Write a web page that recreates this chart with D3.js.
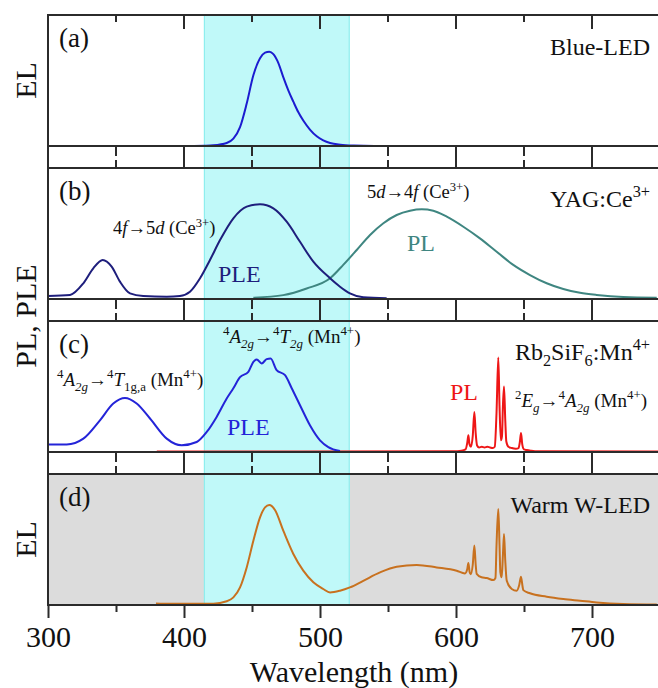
<!DOCTYPE html>
<html>
<head>
<meta charset="utf-8">
<script src="https://cdn.jsdelivr.net/npm/d3@7"></script>
<style>
  body { margin: 0; background: #fff; }
  text { font-family: "Liberation Serif", "Times New Roman", serif; }
</style>
</head>
<body>
<svg id="chart" width="658" height="688"></svg>
<script>
// ---- data -------------------------------------------------------------
const wavelengthDomain = [300, 750];
const majorTicks = [300, 400, 500, 600, 700];
const minorTicks = [350, 450, 550, 650, 750];
const excitationBand = [415, 521.5];

// (a) blue LED chip electroluminescence [wavelength nm, intensity a.u.]
const blueLedEL = [
  [380,0],[400,0],[415,0.003],[421.6,0.007],[431.4,0.032],[436.3,0.078],[441.2,0.2],
  [446.1,0.45],[451,0.75],[455.9,0.93],[459.6,0.99],[462.7,1.0],[465.7,0.975],
  [469.4,0.88],[473,0.73],[476.7,0.59],[480.4,0.47],[484,0.36],[487.7,0.27],
  [492.6,0.174],[497.6,0.103],[502.4,0.06],[507.4,0.032],[515,0.014],[525,0.005],
  [540,0.001],[600,0]
];

// (b) YAG:Ce3+ excitation and emission
const yagPLE = [
  [300,0.032],[316.2,0.043],[326,0.166],[333.3,0.324],[340.2,0.412],[346.8,0.342],
  [352.9,0.183],[360.3,0.059],[370,0.032],[387.3,0.025],[397,0.032],[404.4,0.077],
  [411.8,0.219],[419.1,0.412],[426.5,0.622],[436.3,0.852],[446.1,0.975],[455.9,1.0],
  [465.7,0.957],[475.5,0.816],[485.3,0.604],[495.1,0.394],[507.4,0.219],[514.7,0.13],
  [522,0.059],[531.8,0.018],[549,0.007]
];
const yagPL = [
  [451,0.014],[473,0.041],[490.2,0.111],[507.4,0.219],[517.1,0.36],[527,0.517],
  [536.8,0.676],[546.6,0.8],[556.4,0.887],[566.2,0.932],[574.8,0.947],[583.3,0.932],
  [593.2,0.869],[605.4,0.763],[617.6,0.64],[629.9,0.499],[642.1,0.36],[654.4,0.253],
  [666.7,0.166],[678.9,0.105],[691.2,0.066],[703.4,0.043],[723,0.021],[747.6,0.014]
];

// (c) Rb2SiF6:Mn4+ excitation and emission
const rsfPLE = [
  [300,0.079],[313.7,0.081],[326,0.143],[338.2,0.339],[348,0.518],[356.6,0.578],
  [365.2,0.518],[375,0.358],[387.3,0.143],[398.3,0.072],[409.3,0.107],[416.7,0.214],
  [424,0.375],[431.4,0.572],[436.3,0.682],[441.2,0.80],[447.3,0.857],[451,0.963],
  [453.5,0.989],[457.1,0.946],[460.8,0.993],[463.7,1.0],[468.1,0.875],[474.3,0.821],
  [479.2,0.682],[485.3,0.5],[492.6,0.286],[500,0.125],[506.1,0.053],[514.7,0.01]
];
const rsfPL = [
  [380,0.005],[598,0.007],[604,0.014],[607,0.028],[608.3,0.1],[609.1,0.178],
  [609.9,0.084],[611,0.056],[612.3,0.168],[613.5,0.428],[614.5,0.196],[615.5,0.07],
  [617,0.049],[619,0.056],[621,0.049],[623,0.056],[625,0.049],[627,0.042],
  [628.5,0.056],[629.8,0.42],[631.1,1.01],[632,0.49],[633,0.126],[633.8,0.168],
  [634.5,0.49],[635.3,0.7],[636.2,0.35],[637,0.112],[638.5,0.056],[641,0.042],
  [644,0.035],[646,0.042],[647,0.112],[647.8,0.203],[648.7,0.084],[650,0.028],
  [652,0.021],[655,0.014],[660,0.007],[750,0.005]
];

// (d) warm white LED electroluminescence
const warmLedEL = [
  [379.4,0.016],[390,0.012],[421.6,0.013],[431.4,0.037],[436.3,0.076],[441.2,0.176],
  [446.1,0.376],[451,0.642],[455.9,0.877],[459.6,0.976],[462.7,1.0],[466.9,0.95],
  [473,0.743],[480.4,0.51],[487.7,0.343],[495.1,0.227],[502.4,0.16],[507.4,0.126],
  [514.7,0.143],[522,0.176],[531.8,0.242],[544.1,0.326],[556.4,0.383],[571.1,0.4],
  [585.8,0.376],[600.5,0.343],[606.6,0.316],[608.3,0.36],[609.1,0.419],[610,0.33],
  [610.8,0.308],[612.3,0.4],[613.5,0.594],[614.5,0.4],[615.2,0.311],[618.8,0.277],
  [622.5,0.27],[627.5,0.249],[629,0.27],[629.8,0.6],[631.1,0.961],[632,0.6],
  [632.6,0.33],[633.6,0.277],[634.5,0.5],[635.3,0.71],[636.2,0.45],[637.3,0.244],
  [641,0.16],[644.6,0.143],[646.5,0.2],[647.8,0.283],[649,0.18],[649.5,0.149],
  [654.4,0.117],[666.7,0.083],[678.9,0.06],[691.2,0.043],[703.4,0.026],[723,0.01],
  [747.6,0.004]
];

// ---- layout -----------------------------------------------------------
const svg = d3.select("#chart");
const FONT = '"Liberation Serif", "Times New Roman", serif';
const left = 48, right = 660;
const panelTops = [15, 168, 321, 474];
const panelH = 131;
const panelYMax = [1.39, 1.383, 1.40, 1.31];
const frameColor = "#2b2b2b";

const x = d3.scaleLinear().domain(wavelengthDomain).range([left, right]);
const yScales = panelTops.map((t, i) =>
  d3.scaleLinear().domain([0, panelYMax[i]]).range([t + panelH, t]));

svg.append("rect").attr("width", 658).attr("height", 688).attr("fill", "#fff");

// grey background of the white-LED panel
svg.append("rect")
  .attr("x", left).attr("y", panelTops[3])
  .attr("width", right - left).attr("height", panelH)
  .attr("fill", "#dcdcdc");

// excitation window of the blue chip
const bandTop = panelTops[0], bandBottom = panelTops[3] + panelH;
svg.append("rect")
  .attr("x", x(excitationBand[0])).attr("y", bandTop)
  .attr("width", x(excitationBand[1]) - x(excitationBand[0]))
  .attr("height", bandBottom - bandTop)
  .attr("fill", "#c0f9f9");
svg.selectAll(".bandEdge").data(excitationBand).join("line")
  .attr("x1", d => x(d)).attr("x2", d => x(d))
  .attr("y1", bandTop).attr("y2", bandBottom)
  .attr("stroke", "#8eeeee").attr("stroke-width", 1.2);

// ---- spectra ----------------------------------------------------------
const series = [
  { data: blueLedEL, panel: 0, color: "#1c1cd0" },
  { data: yagPL,     panel: 1, color: "#3f8681" },
  { data: yagPLE,    panel: 1, color: "#1e1e7c" },
  { data: rsfPL,     panel: 2, color: "#ee1616" },
  { data: rsfPLE,    panel: 2, color: "#2424d8" },
  { data: warmLedEL, panel: 3, color: "#c8711f" }
];
series.forEach(s => {
  const y = yScales[s.panel];
  const line = d3.line().x(d => x(d[0])).y(d => y(d[1])).curve(d3.curveMonotoneX);
  svg.append("path").datum(s.data)
    .attr("d", line).attr("fill", "none")
    .attr("stroke", s.color).attr("stroke-width", 2)
    .attr("stroke-linejoin", "round");
});

// ---- frames and ticks -------------------------------------------------
const frame = svg.append("g").attr("stroke", frameColor).attr("stroke-width", 2);
panelTops.forEach(t => {
  [t, t + panelH].forEach(yy =>
    frame.append("line").attr("x1", left - 1).attr("x2", right + 1)
      .attr("y1", yy).attr("y2", yy));
});
[left, right].forEach(xx =>
  frame.append("line").attr("x1", xx).attr("x2", xx)
    .attr("y1", bandTop - 1).attr("y2", bandBottom + 1));

// inward ticks along the top of panel (a)
frame.selectAll(".topMajor").data(majorTicks.filter(d => d > 300)).join("line")
  .attr("x1", d => x(d)).attr("x2", d => x(d))
  .attr("y1", panelTops[0]).attr("y2", panelTops[0] + 14);
frame.selectAll(".topMinor").data(minorTicks.filter(d => d < 750)).join("line")
  .attr("x1", d => x(d)).attr("x2", d => x(d))
  .attr("y1", panelTops[0]).attr("y2", panelTops[0] + 7);

// ticks in the gaps between stacked panels
for (let i = 0; i < 3; i++) {
  const b = panelTops[i] + panelH, t = panelTops[i + 1];
  frame.selectAll(".gapMajor" + i).data(majorTicks.filter(d => d > 300)).join("line")
    .attr("x1", d => x(d)).attr("x2", d => x(d)).attr("y1", b).attr("y2", t);
  frame.selectAll(".gapMinorA" + i).data(minorTicks.filter(d => d < 750)).join("line")
    .attr("x1", d => x(d)).attr("x2", d => x(d)).attr("y1", b).attr("y2", b + 10);
  frame.selectAll(".gapMinorB" + i).data(minorTicks.filter(d => d < 750)).join("line")
    .attr("x1", d => x(d)).attr("x2", d => x(d)).attr("y1", t - 8).attr("y2", t);
}

// bottom wavelength axis
const axisY = panelTops[3] + panelH;
const axisMajor = svg.append("g").attr("transform", `translate(0,${axisY})`)
  .call(d3.axisBottom(x).tickValues(majorTicks).tickSize(13).tickPadding(8)
        .tickFormat(d3.format("d")));
axisMajor.select(".domain").remove();
axisMajor.selectAll("line").attr("stroke", frameColor).attr("stroke-width", 2);
axisMajor.selectAll("text").attr("font-family", FONT).attr("font-size", 30).attr("fill", "#111");
const axisMinor = svg.append("g").attr("transform", `translate(0,${axisY})`)
  .call(d3.axisBottom(x).tickValues(minorTicks.filter(d => d < 750)).tickSize(7).tickFormat(""));
axisMinor.select(".domain").remove();
axisMinor.selectAll("line").attr("stroke", frameColor).attr("stroke-width", 2);

svg.append("text").attr("x", (left + right) / 2).attr("y", 682)
  .attr("text-anchor", "middle").attr("font-size", 30).attr("fill", "#111")
  .text("Wavelength (nm)");

// ---- y titles ---------------------------------------------------------
const yTitles = [
  { text: "EL", cy: panelTops[0] + panelH / 2 },
  { text: "PL, PLE", cy: 316 },
  { text: "EL", cy: panelTops[3] + panelH / 2 }
];
yTitles.forEach(d =>
  svg.append("text").attr("transform", `translate(36,${d.cy}) rotate(-90)`)
    .attr("text-anchor", "middle").attr("font-size", 30).attr("fill", "#111")
    .text(d.text));

// ---- labels -----------------------------------------------------------
function richText(px, py, segs, opt) {
  const fs = opt.size;
  const t = svg.append("text").attr("x", px).attr("y", py)
    .attr("font-size", fs).attr("fill", opt.color || "#111")
    .attr("text-anchor", opt.anchor || "start");
  let shift = 0;
  segs.forEach(([s, k]) => {
    k = k || "";
    const isSup = k.startsWith("sup"), isSub = k.startsWith("sub");
    const target = isSup ? -0.4 * fs : isSub ? 0.27 * fs : 0;
    const ts = t.append("tspan").attr("dy", target - shift).text(s);
    shift = target;
    if (isSup || isSub) ts.attr("font-size", fs * 0.68);
    if (k.endsWith("i")) ts.attr("font-style", "italic");
  });
  return t;
}

const panelLetters = ["(a)", "(b)", "(c)", "(d)"];
panelLetters.forEach((s, i) =>
  svg.append("text").attr("x", 59).attr("y", panelTops[i] + 32)
    .attr("font-size", 27).attr("fill", "#111").text(s));

richText(650, 55, [["Blue-LED"]], { size: 24, anchor: "end" });
richText(650, 207, [["YAG:Ce"], ["3+", "sup"]], { size: 24, anchor: "end" });
richText(650, 360, [["Rb"], ["2", "sub"], ["SiF"], ["6", "sub"], [":Mn"], ["4+", "sup"]],
  { size: 24, anchor: "end" });
richText(650, 513, [["Warm W-LED"]], { size: 24, anchor: "end" });

richText(113, 234, [["4"], ["f", "i"], ["\u2192"], ["5"], ["d", "i"], [" (Ce"], ["3+", "sup"], [")"]],
  { size: 18.5 });
richText(367, 198, [["5"], ["d", "i"], ["\u2192"], ["4"], ["f", "i"], [" (Ce"], ["3+", "sup"], [")"]],
  { size: 18.5 });
richText(218, 282, [["PLE"]], { size: 24, color: "#1e1e7c" });
richText(407, 251, [["PL"]], { size: 24, color: "#3f8681" });

richText(223, 343, [["4", "sup"], ["A", "i"], ["2g", "subi"], ["\u2192"], ["4", "sup"], ["T", "i"],
  ["2g", "subi"], [" (Mn"], ["4+", "sup"], [")"]], { size: 19 });
richText(57, 386, [["4", "sup"], ["A", "i"], ["2g", "subi"], ["\u2192"], ["4", "sup"], ["T", "i"],
  ["1g,a", "sub"], [" (Mn"], ["4+", "sup"], [")"]], { size: 19 });
richText(227, 435, [["PLE"]], { size: 24, color: "#2424d8" });
richText(450, 400, [["PL"]], { size: 24, color: "#ee1616" });
richText(515, 407, [["2", "sup"], ["E", "i"], ["g", "subi"], ["\u2192"], ["4", "sup"], ["A", "i"],
  ["2g", "subi"], [" (Mn"], ["4+", "sup"], [")"]], { size: 19 });
</script>
</body>
</html>
